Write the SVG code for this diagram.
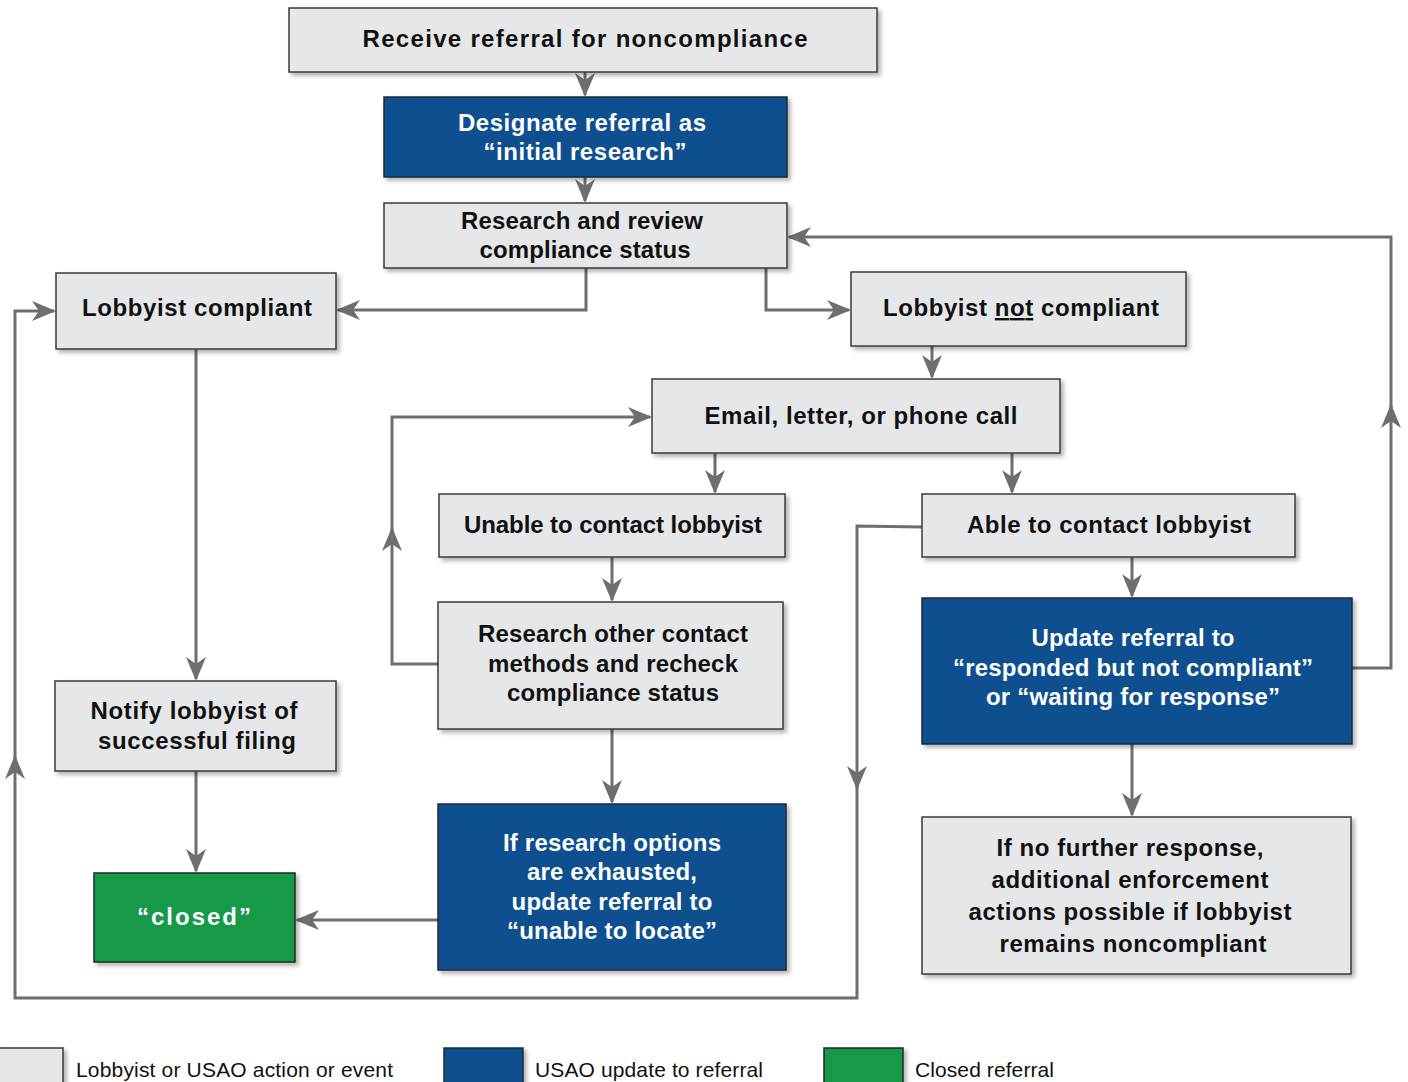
<svg xmlns="http://www.w3.org/2000/svg" width="1408" height="1082" viewBox="0 0 1408 1082">
<defs>
<filter id="sh" x="-5%" y="-5%" width="115%" height="125%">
<feDropShadow dx="3" dy="3" stdDeviation="2" flood-color="#000" flood-opacity="0.3"/>
</filter>
<marker id="ah" markerUnits="userSpaceOnUse" markerWidth="26" markerHeight="22" refX="22" refY="10" orient="auto">
<path d="M0,0 L24,10 L0,20 L7,10 z" fill="#6d6e71"/>
</marker>
<style>
.g{fill:#e6e7e8;stroke:#3a3a3c;stroke-width:1.5;filter:url(#sh)}
.b{fill:#074f8f;stroke:#1f2a3a;stroke-width:1.5;filter:url(#sh)}
.gr{fill:#16994a;stroke:#1f2a1f;stroke-width:1.5;filter:url(#sh)}
.t{font-family:"Liberation Sans",Arial,sans-serif;font-weight:bold;font-size:24px;text-anchor:middle;fill:#111}
.w{fill:#fff}
.lg{font-family:"Liberation Sans",Arial,sans-serif;font-size:21px;fill:#111}
.c{fill:none;stroke:#6d6e71;stroke-width:3}
.a{marker-end:url(#ah)}
</style>
</defs>

<g id="connectors">
<path class="c a" d="M585,72 V95"/>
<path class="c a" d="M585,177 V201"/>
<path class="c a" d="M586,268 V310 H338"/>
<path class="c a" d="M766,268 V310 H849"/>
<path class="c a" d="M1352,668 H1391 V406"/>
<path class="c a" d="M1391,410 V237 H789"/>
<path class="c a" d="M932,346 V377"/>
<path class="c a" d="M715,453 V492"/>
<path class="c a" d="M1012,453 V492"/>
<path class="c a" d="M612,557 V600"/>
<path class="c a" d="M438,664 H392 V529"/>
<path class="c a" d="M392,532 V417 H650"/>
<path class="c a" d="M612,729 V802"/>
<path class="c a" d="M922,527 L857,526 V788"/>
<path class="c a" d="M857,785 V998 H15 V757"/>
<path class="c a" d="M15,760 V311 H54"/>
<path class="c a" d="M196,349 V679"/>
<path class="c a" d="M196,771 V871"/>
<path class="c a" d="M438,920 H297"/>
<path class="c a" d="M1132,557 V596"/>
<path class="c a" d="M1132,744 V815"/>
</g>

<g id="n1"><rect class="g" x="289" y="8" width="588" height="64"/>
<text class="t" x="585" y="47" font-size="26" textLength="445">Receive referral for noncompliance</text></g>

<g id="n2"><rect class="b" x="384" y="97" width="403" height="80"/>
<text class="t w" x="582" y="131" textLength="248">Designate referral as</text>
<text class="t w" x="585" y="160" textLength="203">“initial research”</text></g>

<g id="n3"><rect class="g" x="384" y="203" width="403" height="65"/>
<text class="t" x="582" y="229" textLength="242">Research and review</text>
<text class="t" x="585" y="258" textLength="211">compliance status</text></g>

<g id="n4"><rect class="g" x="56" y="273" width="280" height="76"/>
<text class="t" x="197" y="316" textLength="230">Lobbyist compliant</text></g>

<g id="n5"><rect class="g" x="851" y="272" width="335" height="74"/>
<text class="t" x="1021" y="316" textLength="276">Lobbyist <tspan text-decoration="underline">not</tspan> compliant</text></g>

<g id="n6"><rect class="g" x="652" y="379" width="408" height="74"/>
<text class="t" x="861" y="424" font-size="25" textLength="313">Email, letter, or phone call</text></g>

<g id="n7"><rect class="g" x="439" y="494" width="346" height="63"/>
<text class="t" x="613" y="533" textLength="298">Unable to contact lobbyist</text></g>

<g id="n8"><rect class="g" x="922" y="494" width="373" height="63"/>
<text class="t" x="1109" y="533" textLength="284">Able to contact lobbyist</text></g>

<g id="n9"><rect class="g" x="438" y="602" width="345" height="127"/>
<text class="t" x="613" y="642" textLength="270">Research other contact</text>
<text class="t" x="613" y="672" textLength="250">methods and recheck</text>
<text class="t" x="613" y="701" textLength="212">compliance status</text></g>

<g id="n10"><rect class="b" x="922" y="598" width="430" height="146"/>
<text class="t w" x="1133" y="646" textLength="203">Update referral to</text>
<text class="t w" x="1133" y="676" textLength="360">“responded but not compliant”</text>
<text class="t w" x="1133" y="705" textLength="294">or “waiting for response”</text></g>

<g id="n11"><rect class="g" x="55" y="681" width="281" height="90"/>
<text class="t" x="194" y="719" textLength="207">Notify lobbyist of</text>
<text class="t" x="197" y="749" textLength="198">successful filing</text></g>

<g id="n12"><rect class="gr" x="94" y="873" width="201" height="89"/>
<text class="t w" x="194" y="925" font-size="26" textLength="114">“closed”</text></g>

<g id="n13"><rect class="b" x="438" y="804" width="348" height="166"/>
<text class="t w" x="612" y="851" textLength="218">If research options</text>
<text class="t w" x="612" y="880" textLength="170">are exhausted,</text>
<text class="t w" x="612" y="910" textLength="201">update referral to</text>
<text class="t w" x="612" y="939" textLength="210">“unable to locate”</text></g>

<g id="n14"><rect class="g" x="922" y="817" width="429" height="157"/>
<text class="t" x="1130" y="856" textLength="267">If no further response,</text>
<text class="t" x="1130" y="888" textLength="277">additional enforcement</text>
<text class="t" x="1130" y="920" textLength="323">actions possible if lobbyist</text>
<text class="t" x="1133" y="952" textLength="267">remains noncompliant</text></g>

<g id="legend">
<rect class="g" x="-2" y="1048" width="65" height="40"/>
<text class="lg" x="76" y="1077" textLength="317">Lobbyist or USAO action or event</text>
<rect class="b" x="444" y="1048" width="79" height="40"/>
<text class="lg" x="535" y="1077" textLength="228">USAO update to referral</text>
<rect class="gr" x="824" y="1048" width="79" height="40"/>
<text class="lg" x="915" y="1077" textLength="139">Closed referral</text>
</g>
</svg>
